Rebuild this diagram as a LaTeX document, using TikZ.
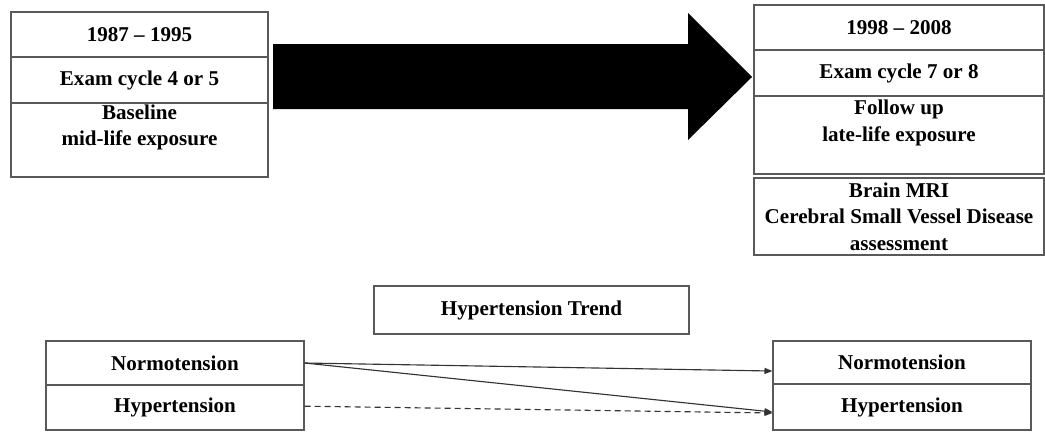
\documentclass[tikz,border=0pt]{standalone}
\usepackage{fontspec}
\setmainfont{Liberation Serif}
\usetikzlibrary{arrows.meta}
\tikzset{
  cell/.style={draw=black!65, line width=0.8pt, inner sep=0pt},
  lbl/.style={font=\fontsize{15.8}{20}\selectfont\bfseries, align=center, inner sep=0pt},
  trend/.style={draw=black!80, line width=0.85pt, -{Triangle[length=6pt,width=4.5pt]}}
}
\begin{document}
\begin{tikzpicture}[x=0.75pt, y=-0.75pt]
\useasboundingbox (0,0) rectangle (1045,433);
% gauche : 1987-1995
\node [cell, lbl, minimum width=192.75pt, minimum height=33.75pt] (yrA) at (139.5,34.5) {1987 -- 1995};
\node [cell, lbl, minimum width=192.75pt, minimum height=34.5pt] (cycA) at (139.5,80) {Exam cycle 4 or 5};
\node [cell, minimum width=192.75pt, minimum height=55.5pt] (baseA) at (139.5,140) {};
\node [lbl] (baseAtxt) at (139.5,127.5) {Baseline\\mid-life exposure};
% grosse fleche
\fill (273,44) -- (688,44) -- (688,13) -- (752,77) -- (688,140) -- (688,109) -- (273,109) -- cycle;
% droite : 1998-2008
\node [cell, lbl, minimum width=217.5pt, minimum height=33.75pt] (yrB) at (899,27.5) {1998 -- 2008};
\node [cell, lbl, minimum width=217.5pt, minimum height=34.5pt] (cycB) at (899,73) {Exam cycle 7 or 8};
\node [cell, minimum width=217.5pt, minimum height=58.5pt] (folB) at (899,135) {};
\node [lbl] (folBtxt) at (899,123) {Follow up\\late-life exposure};
\node [cell, lbl, minimum width=217.5pt, minimum height=57.75pt] (mri) at (899,216.5) {Brain MRI\\Cerebral Small Vessel Disease\\assessment};
% tendance
\node [cell, lbl, minimum width=236.25pt, minimum height=36pt] (trendbox) at (531.5,310) {Hypertension Trend};
\node [cell, lbl, minimum width=193.5pt, minimum height=33pt] (normL) at (175,363) {Normotension};
\node [cell, lbl, minimum width=193.5pt, minimum height=33.75pt] (hypL) at (175,407.5) {Hypertension};
\node [cell, lbl, minimum width=193.5pt, minimum height=32.25pt] (normR) at (902,362.5) {Normotension};
\node [cell, lbl, minimum width=193.5pt, minimum height=34.5pt] (hypR) at (902,407) {Hypertension};
% fleches
\draw [trend] (normL.east) -- ([yshift=-6.4pt]normR.west);
\draw [trend] (normL.east) -- ([yshift=-3.75pt]hypR.west);
\draw [trend, dash pattern=on 4.5pt off 3pt] ([yshift=1pt]hypL.east) -- ([yshift=-4.5pt]hypR.west);
\end{tikzpicture}
\end{document}
